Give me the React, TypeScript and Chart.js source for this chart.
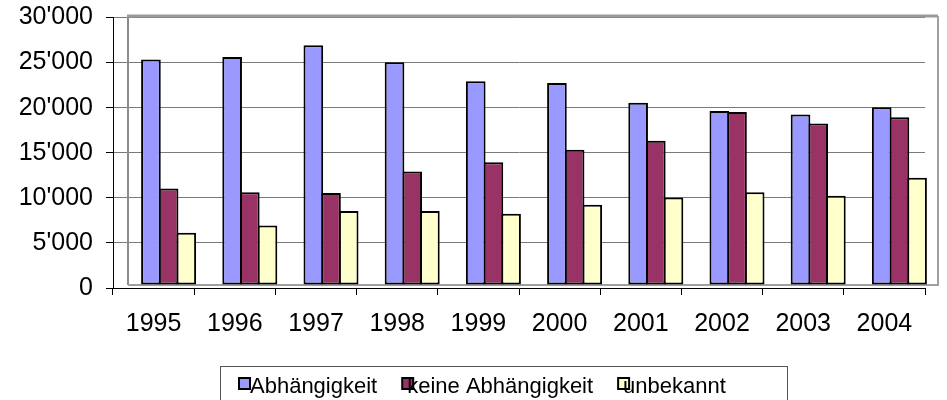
import React, { useEffect, useRef } from "react";
import { Chart, registerables } from "chart.js";

Chart.register(...registerables);

const CATEGORIES = ["1995", "1996", "1997", "1998", "1999", "2000", "2001", "2002", "2003", "2004"];
const ABHAENGIGKEIT = [25000, 25300, 26600, 24700, 22600, 22400, 20200, 19300, 18900, 19700];
const KEINE_ABHAENGIGKEIT = [10700, 10300, 10200, 12600, 13600, 15000, 16000, 19200, 17900, 18600];
const UNBEKANNT = [5800, 6600, 8200, 8200, 7900, 8900, 9700, 10300, 9900, 11900];
const SERIES_LABELS = ["Abhängigkeit", "keine Abhängigkeit", "unbekannt"];
const SERIES_COLORS = ["#9999FF", "#993366", "#FFFFCC"];
const Y_TICKS = [0, 5000, 10000, 15000, 20000, 25000, 30000];
const Y_TICK_LABELS = ["0", "5'000", "10'000", "15'000", "20'000", "25'000", "30'000"];

const FONT = "'Liberation Sans', Arial, sans-serif";
const DEPTH_X = 15;
const DEPTH_Y = -3;

const wallPlugin = {
  id: "wall3d",
  beforeDatasetsDraw(chart: any) {
    const { ctx, chartArea } = chart;
    const l = chartArea.left + DEPTH_X;
    const t = chartArea.top - 1.5;
    const r = chartArea.right + 13;
    const b = chartArea.bottom + DEPTH_Y;
    ctx.save();
    ctx.strokeStyle = "#8c8c8c";
    ctx.lineWidth = 2;
    ctx.beginPath();
    ctx.moveTo(l, b);
    ctx.lineTo(l, t);
    ctx.stroke();
    ctx.strokeStyle = "#9a9a9a";
    ctx.lineWidth = 3;
    ctx.beginPath();
    ctx.moveTo(l - 1, t);
    ctx.lineTo(r, t);
    ctx.stroke();
    ctx.strokeStyle = "#a0a0a0";
    ctx.lineWidth = 2;
    ctx.beginPath();
    ctx.moveTo(r, t);
    ctx.lineTo(r, b);
    ctx.lineTo(l, b);
    ctx.stroke();
    ctx.restore();
    ctx.save();
    ctx.translate(DEPTH_X, DEPTH_Y);
  },
  afterDatasetsDraw(chart: any) {
    chart.ctx.restore();
  },
};

const legendPlugin = {
  id: "boxLegend",
  afterDraw(chart: any) {
    const { ctx } = chart;
    ctx.save();
    ctx.strokeStyle = "#555";
    ctx.lineWidth = 1;
    ctx.strokeRect(220.5, 366.5, 567, 60);
    ctx.font = `22px ${FONT}`;
    ctx.textBaseline = "middle";
    ctx.fillStyle = "#000";
    let x = 239;
    const cy = 387;
    chart.data.datasets.forEach((ds: any, i: number) => {
      ctx.fillStyle = ds.backgroundColor;
      ctx.fillRect(x, cy - 9, 11, 11);
      ctx.strokeStyle = "#000";
      ctx.lineWidth = 2;
      ctx.strokeRect(x, cy - 9, 11, 11);
      const tx = x + (i === 0 ? 11 : 5);
      ctx.fillStyle = "#000";
      ctx.textAlign = "left";
      ctx.fillText(ds.label, tx, cy);
      x = tx + ctx.measureText(ds.label).width + 25;
    });
    ctx.restore();
  },
};

export default function App() {
  const canvasRef = useRef<HTMLCanvasElement | null>(null);

  useEffect(() => {
    if (!canvasRef.current) return;
    const values = [ABHAENGIGKEIT, KEINE_ABHAENGIGKEIT, UNBEKANNT];
    const chart = new Chart(canvasRef.current, {
      type: "bar",
      data: {
        labels: CATEGORIES,
        datasets: values.map((v, i) => ({
          label: SERIES_LABELS[i],
          data: v,
          backgroundColor: SERIES_COLORS[i],
          borderColor: "#000",
          borderWidth: 2,
          borderSkipped: false,
          barPercentage: 1.113,
          categoryPercentage: 0.6527,
          clip: false,
        })),
      },
      options: {
        animation: false,
        responsive: true,
        maintainAspectRatio: false,
        events: [],
        layout: { padding: { top: 17.5, right: 22, left: 0, bottom: 0 } },
        plugins: { legend: { display: false }, tooltip: { enabled: false } },
        scales: {
          x: {
            offset: true,
            grid: {
              display: true,
              offset: true,
              drawOnChartArea: false,
              drawTicks: true,
              tickLength: 7,
              tickColor: "#000",
              tickWidth: 1,
            },
            border: { display: true, color: "#000", width: 1 },
            ticks: {
              color: "#000",
              font: { family: FONT, size: 25 },
              padding: 14,
              maxRotation: 0,
              autoSkip: false,
            },
            afterFit(scale: any) {
              scale.height = 112;
              scale.paddingLeft = 0;
              scale.paddingRight = 0;
            },
          },
          y: {
            min: 0,
            max: 30000,
            grid: {
              color: "#7a7a7a",
              lineWidth: 1,
              tickLength: 7,
              tickColor: "#000",
              drawTicks: true,
            },
            border: { display: true, color: "#000", width: 1 },
            afterBuildTicks(scale: any) {
              scale.ticks = Y_TICKS.map((v) => ({ value: v }));
            },
            ticks: {
              color: "#000",
              font: { family: FONT, size: 25 },
              padding: 13,
              callback: (v: any) => {
                const idx = Y_TICKS.indexOf(Number(v));
                return idx >= 0 ? Y_TICK_LABELS[idx] : "";
              },
            },
            afterFit(scale: any) {
              scale.width = 113;
              scale.paddingTop = 0;
              scale.paddingBottom = 0;
            },
          },
        },
      },
      plugins: [wallPlugin, legendPlugin],
    });
    return () => chart.destroy();
  }, []);

  return (
    <div style={{ position: "fixed", left: 0, top: 0, width: 947, height: 400, background: "#fff" }}>
      <canvas ref={canvasRef} />
    </div>
  );
}
